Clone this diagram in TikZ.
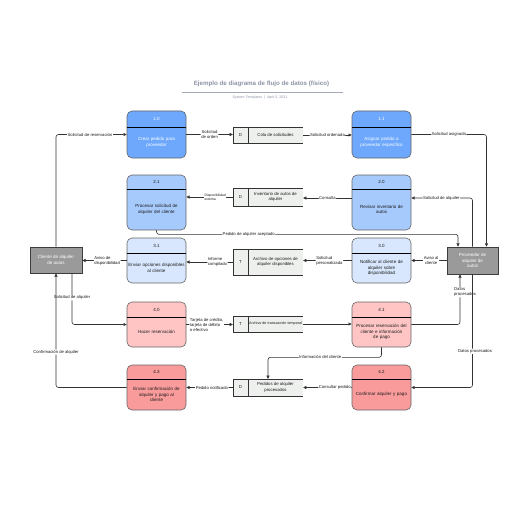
\documentclass[tikz,border=0pt]{standalone}
\usepackage{fontspec}
\setmainfont{Liberation Sans}
\usetikzlibrary{arrows.meta}
\hyphenpenalty=10000
\exhyphenpenalty=10000
\definecolor{blueA}{HTML}{6DA8FD}
\definecolor{blueB}{HTML}{A7CAFC}
\definecolor{blueC}{HTML}{D8E7FD}
\definecolor{pinkA}{HTML}{FFC5C5}
\definecolor{pinkB}{HTML}{F99B9B}
\definecolor{bordc}{HTML}{666666}
\definecolor{linec}{HTML}{333333}
\definecolor{storefill}{HTML}{EEF0EE}
\definecolor{entfill}{HTML}{9A9A9A}
\definecolor{entbord}{HTML}{3D3D3D}
\definecolor{titlec}{HTML}{8C94A6}
\definecolor{txtc}{HTML}{1A1A1A}
\newcommand\procbox[9]{%
  \node[procshape, fill=#8, minimum height={(#4-#3)*1pt}] (#1) at (#2,{(#3+#4)/2}) {};
  \draw[hdrline] ([yshift={((#3+#4)/2-#5)*1pt}]#1.west) -- ([yshift={((#3+#4)/2-#5)*1pt}]#1.east);
  \node[numtxt, text=#9] (#1n) at (#2,{(#3+#5)/2}) {#6};
  \node[bodytxt, text=#9] (#1t) at (#2,{(#5+#4)/2}) {#7};
}
\newcommand\storebox[7]{%
  \node[storeshape, minimum width={(#3-#2)*1pt}, minimum height={(#5-#4)*1pt}] (#1) at ({(#2+#3)/2},{(#4+#5)/2}) {};
  \draw[storeline] (#1.north east) -- (#1.north west) -- (#1.south west) -- (#1.south east);
  \draw[storeline] ([xshift=15pt]#1.north west) -- ([xshift=15pt]#1.south west);
  \node[storetxt] (#1l) at ({#2+7.5},{(#4+#5)/2}) {#6};
  \node[storetxt] (#1t) at ({(#2+15+#3)/2},{(#4+#5)/2}) {#7};
}
\begin{document}
\begin{tikzpicture}[x=1pt,y=-1pt,
  procshape/.style={draw=bordc, line width=0.6pt, rounded corners=5pt, minimum width=59pt, inner sep=0pt},
  hdrline/.style={draw=black, line width=0.6pt},
  numtxt/.style={font=\fontsize{4.5}{5.4}\selectfont, inner sep=0pt},
  bodytxt/.style={font=\fontsize{4.5}{5.6}\selectfont, align=center, text width=57pt, inner sep=0pt},
  storeshape/.style={fill=storefill, inner sep=0pt},
  storeline/.style={draw=linec, line width=0.6pt},
  storetxt/.style={font=\fontsize{4.3}{5.3}\selectfont, align=center, text=txtc, inner sep=0pt},
  entity/.style={draw=entbord, fill=entfill, line width=0.7pt, text=white, font=\fontsize{4.5}{5.6}\selectfont, align=center, inner sep=0pt},
  arr/.style={draw=linec, line width=0.6pt, -{Triangle[length=3.2pt,width=3pt]}, rounded corners=2.5pt},
  lbl/.style={font=\fontsize{4.2}{5}\selectfont, fill=white, inner sep=0.6pt, align=center, text=txtc},
  slbl/.style={font=\fontsize{3.4}{4}\selectfont, fill=white, inner sep=0.5pt, align=left, text=txtc}
]
\fill[white] (0,0) rectangle (516,516);
\useasboundingbox (0,0) rectangle (516,516);

% title
\node[font=\bfseries\fontsize{6.2}{7}\selectfont, text=titlec] (title) at (261.5,84) {Ejemplo de diagrama de flujo de datos (físico)};
\draw[draw=titlec!80, line width=0.5pt] (182,92.3) -- (343,92.3);
\node[font=\fontsize{3.6}{4}\selectfont, text=titlec] (sub) at (260,98) {System Templates \ | \ April 5, 2021};

% process boxes
\procbox{p10}{156.5}{111}{158}{127}{1.0}{Crear pedido para\\proveedor}{blueA}{white}
\procbox{p11}{381.5}{111}{158}{127}{1.1}{Asignar pedido a\\proveedor específico}{blueA}{white}
\procbox{p21}{156.5}{175}{230}{189}{2.1}{Procesar solicitud de\\alquiler del cliente}{blueB}{txtc}
\procbox{p20}{381.5}{175}{230}{189}{2.0}{Revisar inventario de\\autos}{blueB}{txtc}
\procbox{p31}{156.5}{238}{283}{253}{3.1}{Enviar opciones disponibles\\al cliente}{blueC}{txtc}
\procbox{p30}{381.5}{238}{283}{253}{3.0}{Notificar al cliente de\\alquiler sobre\\disponibilidad}{blueC}{txtc}
\procbox{p40}{156.5}{302}{347}{317}{4.0}{Hacer reservación}{pinkA}{txtc}
\procbox{p41}{381.5}{302}{347}{317}{4.1}{Procesar reservación del\\cliente e información\\de pago}{pinkA}{txtc}
\procbox{p43}{156.5}{365}{410}{379}{4.3}{Enviar confirmación de\\alquiler y pago al\\cliente}{pinkB}{txtc}
\procbox{p42}{381.5}{365}{410}{379}{4.2}{Confirmar alquiler y pago}{pinkB}{txtc}

% data stores
\storebox{s1}{233}{303}{127}{143}{D}{Cola de solicitudes}
\storebox{s2}{233}{303}{188}{206}{D}{Inventario de autos de\\alquiler}
\storebox{s3}{233}{303}{249}{275}{T}{Archivo de opciones de\\alquiler disponibles}
\storebox{s4}{233}{303}{316}{332}{T}{{\fontsize{3.7}{4.4}\selectfont Archivo de transacción temporal}}
\storebox{s5}{233}{303}{379}{396}{D}{Pedidos de alquiler\\procesados}

% external entities
\node[entity, minimum width=52pt, minimum height=26pt] (cli) at (56,260) {Cliente de alquiler\\de autos};
\node[entity, minimum width=51pt, minimum height=27pt] (prov) at (472.5,260.5) {Proveedor de\\alquiler de\\autos};

% connector end points
\coordinate (p20w) at ([yshift=4.5pt]p20.west);
\coordinate (p20e) at ([yshift=4.5pt]p20.east);

% connectors
\draw[arr] (cli.north) |- node[lbl, pos=0.74] {Solicitud de reservación} (p10.west);
\draw[arr] (p10.east) -- node[lbl] {Solicitud\\de orden} (s1.west |- p10.east);
\draw[arr] (s1.east) -- node[lbl] {Solicitud ordenada} (p11.west |- s1.east);
\draw[arr] (p11.east) -| node[lbl, pos=0.25] {Solicitud asignada} ([xshift=14pt]prov.north);
\draw[arr] (p21.south) -- ++(0,4) -| node[lbl, pos=0.153] {Pedido de alquiler aceptado} ([xshift=-14.5pt]prov.north);
\draw[arr] (prov.north) |- node[lbl, pos=0.755] {Solicitud de alquiler} (p20e);
\draw[arr] (s2.west) -- node[slbl, pos=0.38] {Disponibilidad\\externa} (p21.east |- s2.west);
\draw[arr] (p20w) -- node[lbl] {Consulta} (s2.east |- p20w);
\draw[arr] (p31.west) -- node[lbl, pos=0.44, align=left] {Aviso de\\disponibilidad} (cli.east |- p31.west);
\draw[arr] (s3.west) -- node[lbl, pos=0.33, align=left] {Informe\\compilado} (p31.east |- s3.west);
\draw[arr] (p30.west) -- node[lbl, pos=0.46, align=left] {Solicitud\\personalizada} (s3.east |- p30.west);
\draw[arr] (prov.west) -- node[lbl, pos=0.44] {Aviso al\\cliente} (p30.east |- prov.west);
\draw[arr] ([xshift=16pt]cli.south) |- node[lbl, pos=0.24] {Solicitud de alquiler} (p40.west);
\draw[arr] (p43.west) -| node[lbl, pos=0.655] {Confirmación de alquiler} (cli.south);
\draw[arr] (p40.east) -- node[lbl, pos=0.06, anchor=west, align=left] {Tarjeta de crédito,\\tarjeta de débito\\o efectivo} (s4.west |- p40.east);
\draw[arr] (s4.east) -- (p41.west |- s4.east);
\draw[arr] (p41.south) -- ++(0,10) -| node[lbl, pos=0.27] {Información del cliente} (s5.north);
\draw[arr] (p42.west) -- node[lbl, pos=0.35] {Consultar pedido} (s5.east |- p42.west);
\draw[arr] (s5.west) -- node[lbl, pos=0.45] {Pedido notificado} (p43.east |- s5.west);
\draw[arr] (p41.east) -| node[lbl, pos=0.82, xshift=5pt, align=left] {Datos\\procesados} ([xshift=-12.5pt]prov.south);
\draw[arr] (prov.south) |- node[lbl, pos=0.34, xshift=2.5pt] {Datos procesados} (p42.east);
\end{tikzpicture}
\end{document}
